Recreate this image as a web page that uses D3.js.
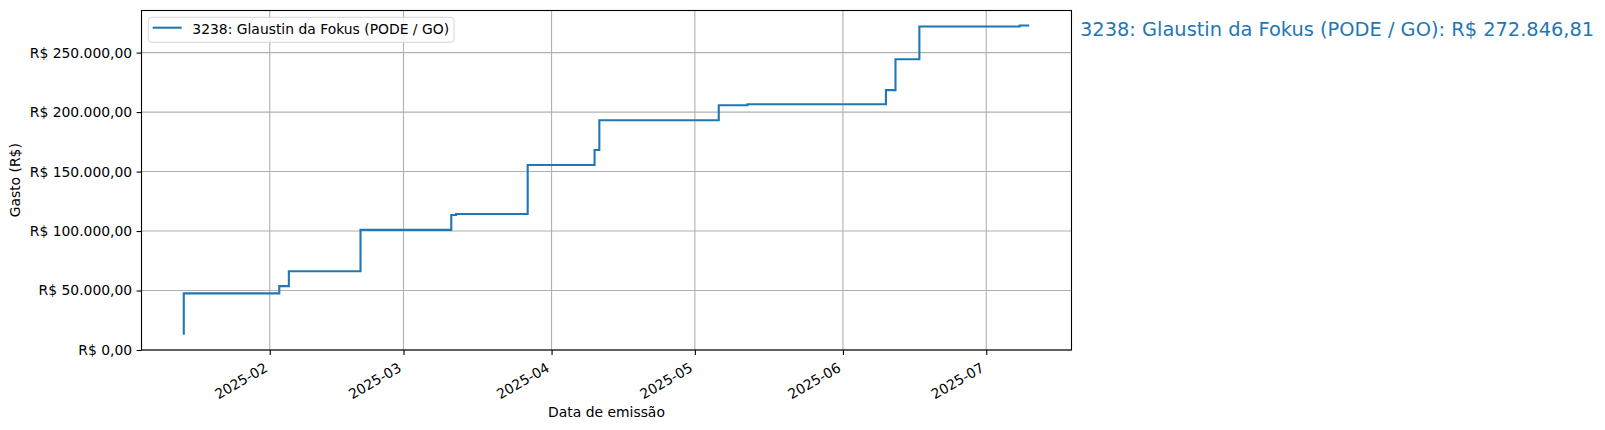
<!DOCTYPE html>
<html>
<head>
<meta charset="utf-8">
<script src="https://cdn.jsdelivr.net/npm/d3@7"></script>
<style>
  body{margin:0;background:#fff;}
  svg text{font-family:"DejaVu Sans",sans-serif;}
</style>
</head>
<body>
<div id="chart"></div>
<script>
// emission dates and accumulated spending (R$)
var dates = ["2025-01-14","2025-01-14","2025-02-03","2025-02-05","2025-02-20","2025-03-11","2025-03-12",
             "2025-03-27","2025-04-10","2025-04-11","2025-05-06","2025-05-12","2025-06-10","2025-06-12",
             "2025-06-17","2025-07-08","2025-07-10"]
var values = [12800,47600,53700,66200,101000,113500,114300,155500,168100,193100,205800,206600,218500,
              244400,272000,272846.81,272846.81]
var seriesName = "3238: Glaustin da Fokus (PODE / GO)"
var yTicks = [0,50000,100000,150000,200000,250000]

initChart()
function initChart(){
  var width = 1605
  var height = 430
  var margin = {top:10.5, bottom:80, left:141.5, right:533.5}
  var blue = "#1f77b4"

  var br = d3.formatLocale({decimal:",", thousands:".", grouping:[3], currency:["R$ ",""]})
  var fmtMoney = br.format("$,.2f")

  var data = dates.map(function(d,i){ return [d3.utcParse("%Y-%m-%d")(d), values[i]] })

  var svg = d3.select("#chart").append("svg")
      .attr("width", width)
      .attr("height", height)

  var ext = d3.extent(data, function(d){return d[0]})
  var pad = (ext[1]-ext[0])*0.05
  var x = d3.scaleUtc()
      .domain([new Date(+ext[0]-pad), new Date(+ext[1]+pad)])
      .range([margin.left, width-margin.right])

  var y = d3.scaleLinear()
      .domain([0, d3.max(values)*1.046])
      .range([height-margin.bottom, margin.top])

  var months = x.ticks(d3.utcMonth.every(1))

  // grid
  svg.append("g").selectAll("line.vg")
    .data(months).enter().append("line")
    .attr("x1",function(d){return x(d)}).attr("x2",function(d){return x(d)})
    .attr("y1",margin.top).attr("y2",height-margin.bottom)
    .attr("stroke","#b0b0b0").attr("stroke-width",1.1)
  svg.append("g").selectAll("line.hg")
    .data(yTicks).enter().append("line")
    .attr("x1",margin.left).attr("x2",width-margin.right)
    .attr("y1",function(d){return y(d)}).attr("y2",function(d){return y(d)})
    .attr("stroke","#b0b0b0").attr("stroke-width",1.1)

  // the step line
  var line = d3.line()
    .x(function(d){return x(d[0])})
    .y(function(d){return y(d[1])})
    .curve(d3.curveStepAfter)
  svg.append("path")
    .datum(data)
    .attr("d",line)
    .attr("fill","none")
    .attr("stroke",blue)
    .attr("stroke-width",2.1)

  // axes
  var yAxis = svg.append("g")
    .attr("transform","translate("+margin.left+",0)")
    .call(d3.axisLeft(y).tickValues(yTicks).tickFormat(fmtMoney).tickSize(4.9).tickPadding(4.4))
  var xAxis = svg.append("g")
    .attr("transform","translate(0,"+(height-margin.bottom)+")")
    .call(d3.axisBottom(x).tickValues(months).tickFormat(d3.utcFormat("%Y-%m")).tickSize(4.9))
  svg.selectAll(".domain").remove()
  svg.selectAll(".tick line").attr("stroke","#000").attr("stroke-width",1.1)
  svg.selectAll(".tick text").attr("fill","#000").attr("font-size",13.9).attr("font-family","DejaVu Sans")
  xAxis.selectAll(".tick text")
    .attr("text-anchor","end")
    .attr("dy",null)
    .attr("y",null)
    .attr("transform","translate(-1.6,20.6) rotate(-30)")

  // frame
  svg.append("rect")
    .attr("x",margin.left).attr("y",margin.top)
    .attr("width",width-margin.left-margin.right)
    .attr("height",height-margin.top-margin.bottom)
    .attr("fill","none").attr("stroke","#000").attr("stroke-width",1.1)

  // axis titles
  svg.append("text")
    .text("Data de emissão")
    .attr("x",(margin.left+width-margin.right)/2)
    .attr("y",416.7)
    .attr("text-anchor","middle")
    .attr("font-size",13.9)
    .attr("fill","#000")
  svg.append("text")
    .text("Gasto (R$)")
    .attr("transform","translate(20,"+((margin.top+height-margin.bottom)/2)+") rotate(-90)")
    .attr("text-anchor","middle")
    .attr("font-size",13.9)
    .attr("fill","#000")

  // legend
  var lg = svg.append("g")
  lg.append("rect")
    .attr("x",148.3).attr("y",17.3).attr("width",305.7).attr("height",25)
    .attr("rx",3).attr("fill","#fff").attr("fill-opacity",0.8)
    .attr("stroke","#d6d6d6").attr("stroke-width",1)
  lg.append("line")
    .attr("x1",152.7).attr("x2",181.7).attr("y1",27.7).attr("y2",27.7)
    .attr("stroke",blue).attr("stroke-width",2.1)
  lg.append("text")
    .text(seriesName)
    .attr("x",192.3).attr("y",34.3)
    .attr("font-size",13.9)
    .attr("fill","#000")

  // total label on the right
  svg.append("text")
    .text(seriesName+": "+fmtMoney(values[values.length-1]))
    .attr("x",1080).attr("y",36)
    .attr("font-size",19.4)
    .attr("fill",blue)
}
</script>
</body>
</html>
